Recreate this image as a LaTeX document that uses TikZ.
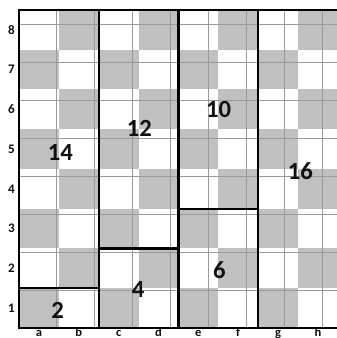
\documentclass[tikz,border=0pt]{standalone}
\usepackage{fontspec}
\setmainfont{Carlito}
\definecolor{ink}{HTML}{111111}
\definecolor{darksq}{HTML}{C0C0C0}
\definecolor{gridline}{HTML}{9A9A9A}

\begin{document}
\begin{tikzpicture}[x=29.89pt,y=29.81pt,
    rank/.style={font=\bfseries\fontsize{9.8}{10}\selectfont,text=ink,inner sep=0pt},
    file/.style={font=\bfseries\fontsize{9.4}{10}\selectfont,text=ink,anchor=base,inner sep=0pt},
    count/.style={font=\bfseries\fontsize{18.5}{20}\selectfont,text=ink,inner sep=0pt},
    wall/.style={line width=1.7pt,draw=black}]
  \useasboundingbox[fill=white] (-0.4768,-0.2516) rectangle (7.955,8.2516);

  % Checkerboard, a1 is a dark square.
  \foreach \i in {0,...,7}
    \foreach \j in {0,...,7} {
      \pgfmathtruncatemacro{\odd}{mod(\i+\j,2)}
      \ifnum\odd=0
        \fill[darksq] (\i,\j) rectangle ++(1,1);
      \fi
    }
  \draw[gridline,line width=0.8pt] (0,0) grid (8,8);

  % Ranks and files.
  \foreach \r in {1,...,8}
    \node[rank] (rank\r) at (-0.19,\r-0.5) {\r};
  \foreach \f [count=\k from 0] in {a,b,c,d,e,f,g,h}
    \node[file] (file\f) at (\k+0.5,-0.205) {\f};

  % Region walls.
  \draw[wall] (0,0) rectangle (8,8);
  \draw[wall] (2,0) -- (2,8);
  \draw[wall] (4,0) -- (4,8);
  \draw[wall] (6,0) -- (6,8);
  \draw[wall] (0,1) -- (2,1);
  \draw[wall] (2,2) -- (4,2);
  \draw[wall] (4,3) -- (6,3);

  % Region sizes.
  \node[count] (n2) at (0.97,0.45) {2};
  \node[count] (n14) at (1.04,4.41) {14};
  \node[count] (n4) at (2.99,0.96) {4};
  \node[count] (n12) at (3.02,5.01) {12};
  \node[count] (n6) at (5.03,1.46) {6};
  \node[count] (n10) at (5.01,5.49) {10};
  \node[count] (n16) at (7.06,3.94) {16};
\end{tikzpicture}
\end{document}
